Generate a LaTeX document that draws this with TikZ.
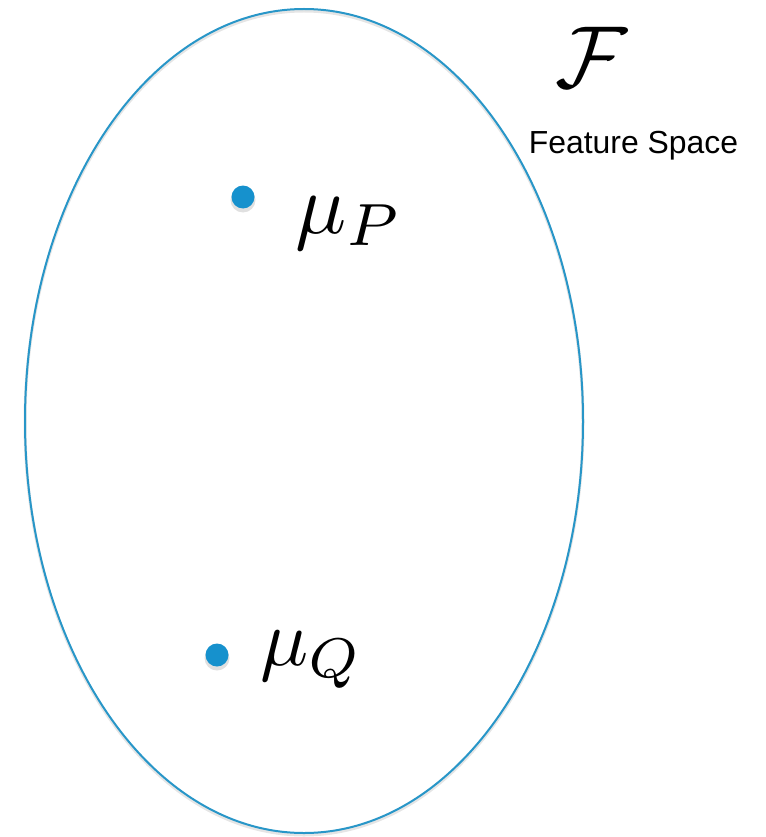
\documentclass[tikz,border=0pt]{standalone}
\usepackage{graphicx}
\usepackage{fontspec}
\newfontfamily\arialfont{Liberation Sans}
\definecolor{ellblue}{RGB}{40,150,200}
\definecolor{dotblue}{RGB}{22,145,205}
\begin{document}
\begin{tikzpicture}[x=1pt,y=-1pt,
  dotshadow/.style={fill=black,opacity=0.12},
  dotstyle/.style={circle,fill=dotblue,inner sep=0pt,minimum size=23pt},
  bigmath/.style={inner sep=0pt,anchor=base west}]
\useasboundingbox (0,0) rectangle (765,837);
\draw[black!10,line width=3pt] (304,423) ellipse [x radius=279, y radius=412];
\draw[ellblue,line width=2pt] (304,421) ellipse [x radius=279, y radius=412];
\node[inner sep=0pt,anchor=base west] (F) at (555,88) {\scalebox{8.8}{$\mathcal{F}$}};
\node[inner sep=0pt,anchor=base,font=\arialfont\fontsize{31.9}{36}\selectfont] (fs) at (633.5,154) {Feature Space};
\fill[dotshadow] (243,200) circle (12.5);
\node[dotstyle] (dp) at (243,197) {};
\node[bigmath] (mp) at (295,233) {\scalebox{8.5}{$\mu_P$}};
\fill[dotshadow] (217,658) circle (12.5);
\node[dotstyle] (dq) at (217,655) {};
\node[bigmath] (mq) at (260,665) {\scalebox{8}{$\mu_Q$}};
\end{tikzpicture}
\end{document}
